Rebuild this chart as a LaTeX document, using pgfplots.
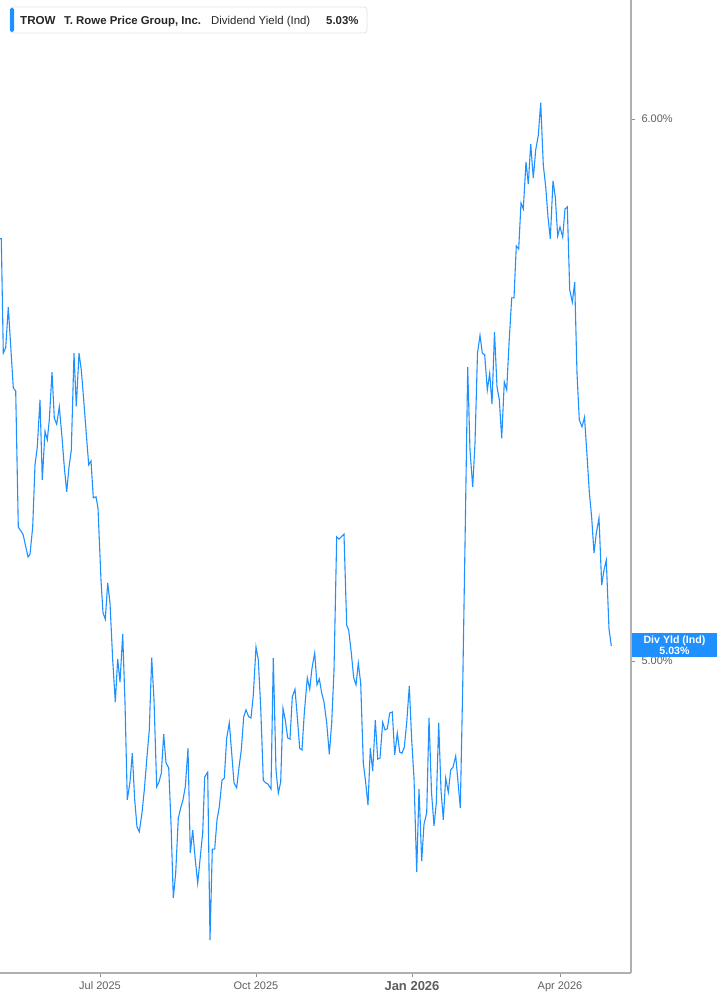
\documentclass[border=0pt]{standalone}
\usepackage{fontspec}
\setmainfont{Liberation Sans}
\usepackage{pgfplots}
\usepackage{pgfplotstable}
\pgfplotsset{compat=1.18}
\definecolor{lineblue}{RGB}{30,144,255}
\definecolor{axisgray}{RGB}{176,176,176}
\definecolor{labelgray}{RGB}{95,95,95}
\definecolor{boxgray}{RGB}{228,228,228}
\pgfplotstableread{
x y
0 5.779
1.3 5.779
3.3 5.568
5.7 5.578
8.3 5.653
13.3 5.504
15.7 5.498
18.3 5.247
21.7 5.238
23.3 5.232
28 5.192
30 5.197
32.7 5.247
35 5.362
37.3 5.395
40 5.482
42.3 5.334
45 5.424
47.3 5.408
49.3 5.445
52 5.533
54.3 5.448
56.7 5.437
59.3 5.469
62 5.413
64.3 5.358
66.7 5.312
69 5.358
71.3 5.389
74 5.568
76.3 5.470
79 5.568
81.3 5.537
83.7 5.482
86 5.426
88.7 5.362
91 5.369
93.3 5.301
96 5.303
98 5.282
101 5.149
103 5.089
105.3 5.077
107.7 5.144
110 5.107
112.7 5.002
115.3 4.924
117.7 5.004
120 4.961
122.7 5.050
125 4.923
127.3 4.744
130 4.777
132.3 4.830
134.7 4.744
137 4.694
139.3 4.685
142 4.720
144.3 4.762
146.7 4.817
149.3 4.873
151.7 5.006
154 4.928
156.7 4.768
159 4.777
161.3 4.793
163.7 4.865
166 4.812
168.7 4.803
171 4.701
173.3 4.563
175.7 4.609
178.3 4.710
180.7 4.729
183 4.744
185.3 4.768
188 4.839
190.3 4.646
192.7 4.688
195.3 4.633
197.7 4.590
200 4.633
202.7 4.683
204.7 4.786
207.7 4.795
210 4.485
212.3 4.653
214.7 4.653
217 4.707
219.3 4.731
222 4.780
224.3 4.784
226.7 4.858
229.3 4.886
231.7 4.830
234 4.775
236.7 4.766
239 4.804
241.3 4.836
243.7 4.897
246 4.910
248.7 4.897
251 4.895
253.3 4.937
256 5.026
258.3 5.002
260.7 4.915
263.3 4.780
265.7 4.775
268 4.773
271 4.764
273.3 5.006
276 4.799
278.3 4.756
280.7 4.777
283 4.913
285.3 4.891
287.7 4.858
290 4.856
292.3 4.934
295 4.948
297.3 4.897
299.7 4.839
302 4.836
304.3 4.904
307.3 4.969
309.7 4.948
312 4.987
314.7 5.015
317 4.956
319.3 4.967
321.7 4.941
324 4.924
326.7 4.886
329.3 4.828
331.7 4.886
334 4.983
336.7 5.229
339 5.225
341.3 5.229
344 5.234
346.7 5.066
348.7 5.057
351.3 5.015
353.7 4.969
356 4.956
358.3 4.996
360.7 4.959
363.3 4.812
365.7 4.775
368 4.734
370.3 4.839
372.7 4.797
375.3 4.891
377.7 4.819
380 4.821
382.7 4.887
385 4.873
387.3 4.875
389.7 4.904
392.3 4.906
394.7 4.827
397.3 4.867
399.7 4.832
402 4.830
404.3 4.841
406.7 4.886
409.3 4.954
411.7 4.854
414 4.784
416.7 4.611
419 4.764
421.7 4.631
424 4.699
426.7 4.720
429 4.895
431.5 4.758
434 4.696
436.3 4.738
438.7 4.886
441 4.762
443.3 4.707
445.7 4.784
448.3 4.758
450.7 4.799
453 4.804
455.7 4.825
458 4.777
460.3 4.729
462.7 4.952
465.3 5.249
467.7 5.542
470 5.389
472.7 5.321
475 5.402
477.5 5.568
480 5.601
482.3 5.568
484.7 5.565
487.3 5.500
489.7 5.531
492 5.474
494.5 5.607
497 5.506
499.3 5.482
501.7 5.411
504.3 5.515
506.7 5.500
509 5.585
511.7 5.670
514 5.670
516.3 5.766
518.7 5.760
521 5.845
523.3 5.834
526 5.921
528.3 5.880
530.7 5.954
533.3 5.891
535.7 5.943
538.3 5.970
540.7 6.030
543.3 5.915
545.7 5.875
548 5.819
550.3 5.779
553 5.886
555.3 5.856
557.7 5.784
560 5.801
562.7 5.782
565 5.834
567.3 5.838
569.7 5.685
572.3 5.662
574.7 5.699
577 5.531
579.3 5.445
582 5.432
584.5 5.450
587 5.380
589.3 5.312
591.7 5.264
594 5.199
596.3 5.236
599 5.264
601.7 5.140
604 5.168
606.3 5.186
609 5.059
611.3 5.028
}\divyield
\begin{document}
\begin{tikzpicture}
\begin{axis}[
  at={(0pt,0pt)}, anchor=south west,
  scale only axis, width=631pt, height=973pt,
  xmin=0, xmax=631, ymin=4.4244, ymax=6.2196,
  axis x line*=bottom, axis y line*=right,
  axis line style={draw=axisgray, line width=1.6pt},
  xtick={100,256,412,560},
  xticklabels={Jul 2025, Oct 2025, {\fontsize{13}{15}\selectfont\bfseries Jan 2026}, Apr 2026},
  ytick={5,6}, yticklabels={5.00\%, 6.00\%},
  tick align=outside, major tick length=4pt,
  tick style={draw=axisgray!80!black, line width=0.9pt},
  xticklabel style={font=\fontsize{11}{13}\selectfont, text=labelgray, yshift=-1pt},
  yticklabel style={font=\fontsize{11}{13}\selectfont, text=labelgray, xshift=3pt},
  /pgf/number format/assume math mode=true,
  clip=false,
]
\addplot[color=lineblue, line width=1.1pt, no marks] table[x=x, y=y] {\divyield};
\end{axis}
% title box
\draw[rounded corners=3pt, draw=boxgray, fill=white, line width=0.8pt] (10pt,940pt) rectangle (367pt,966pt);
\fill[lineblue, rounded corners=1.5pt] (10pt,941pt) rectangle (14pt,965pt);
\node[anchor=base west, inner sep=0pt, font=\fontsize{11.6}{13}\selectfont\bfseries, text=black!85] at (20pt,948pt) {TROW};
\node[anchor=base west, inner sep=0pt, font=\fontsize{11.4}{13}\selectfont\bfseries, text=black!85] at (64pt,948pt) {T. Rowe Price Group, Inc.};
\node[anchor=base west, inner sep=0pt, font=\fontsize{11.4}{13}\selectfont, text=black!85] at (211pt,948pt) {Dividend Yield (Ind)};
\node[anchor=base west, inner sep=0pt, font=\fontsize{11.4}{13}\selectfont\bfseries, text=black!85] at (326pt,948pt) {5.03\%};
% right value box
\fill[lineblue] (632pt,316pt) rectangle (717pt,340pt);
\node[align=center, inner sep=0pt, text=white, font=\fontsize{10.6}{10.8}\selectfont\bfseries] at (674.5pt,328pt) {Div Yld (Ind)\\5.03\%};
\pgfresetboundingbox
\path[use as bounding box] (0pt,-32pt) rectangle (717pt,973pt);
\end{tikzpicture}
\end{document}
